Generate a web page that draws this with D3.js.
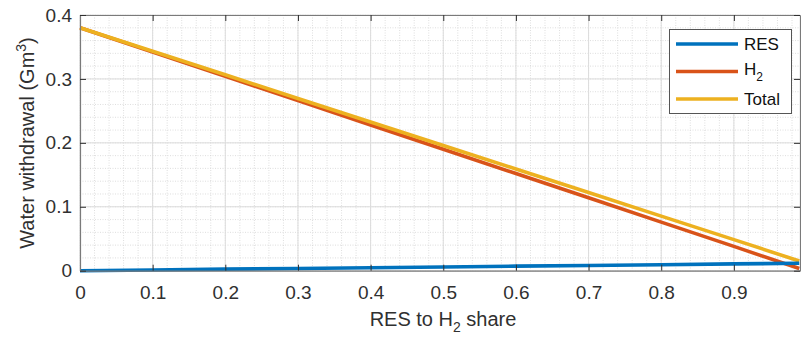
<!DOCTYPE html>
<html><head><meta charset="utf-8">
<script src="https://cdn.jsdelivr.net/npm/d3@7"></script>
<style>body{margin:0;background:#fff}svg{display:block}text{font-family:Arial,"Liberation Sans",Helvetica,sans-serif}</style>
</head><body><svg id="c" width="801" height="338"></svg>
<script>
const share = [0, 0.1, 0.2, 0.3, 0.4, 0.5, 0.6, 0.7, 0.8, 0.9, 0.99];
const resVals = [0, 0.0012, 0.0024, 0.0035, 0.0047, 0.0059, 0.0071, 0.0082, 0.0094, 0.0106, 0.0117];
const h2Vals = [0.38, 0.342, 0.304, 0.266, 0.228, 0.19, 0.152, 0.114, 0.076, 0.038, 0.0035];
const totalVals = [0.38, 0.3432, 0.3064, 0.2695, 0.2327, 0.1959, 0.1591, 0.1222, 0.0854, 0.0486, 0.0152];
const xTicks = [0, 0.1, 0.2, 0.3, 0.4, 0.5, 0.6, 0.7, 0.8, 0.9];
const yTicks = [0, 0.1, 0.2, 0.3, 0.4];
const seriesNames = ["RES", "H\u2082", "Total"];
const colors = ["#0072BD", "#D95319", "#EDB120"];

const svg = d3.select("#c");
const L = 80, R = 800, T = 15, B = 270.7;
const x = d3.scaleLinear().domain([0, 0.991]).range([L, R]);
const y = d3.scaleLinear().domain([0, 0.4]).range([B, T]);

// minor grid
const minorX = d3.range(0, 0.991, 0.02);
const minorY = d3.range(0, 0.401, 0.02);
const g = svg.append("g");
g.selectAll(".mx").data(minorX).join("line")
  .attr("x1", d => x(d)).attr("x2", d => x(d)).attr("y1", T).attr("y2", B)
  .attr("stroke", "#d6d6d6").attr("stroke-width", 0.8).attr("stroke-dasharray", "1,1.5");
g.selectAll(".my").data(minorY).join("line")
  .attr("y1", d => y(d)).attr("y2", d => y(d)).attr("x1", L).attr("x2", R)
  .attr("stroke", "#d6d6d6").attr("stroke-width", 0.8).attr("stroke-dasharray", "1,1.5");
// major grid
g.selectAll(".gx").data(xTicks).join("line")
  .attr("x1", d => x(d)).attr("x2", d => x(d)).attr("y1", T).attr("y2", B)
  .attr("stroke", "#dcdcdc").attr("stroke-width", 1);
g.selectAll(".gy").data(yTicks).join("line")
  .attr("y1", d => y(d)).attr("y2", d => y(d)).attr("x1", L).attr("x2", R)
  .attr("stroke", "#dcdcdc").attr("stroke-width", 1);

// lines
const data = [resVals, h2Vals, totalVals];
const line = d3.line().x((d, i) => x(share[i])).y(d => y(d));
const order = [1, 2, 0];
order.forEach(k => {
  svg.append("path").datum(data[k]).attr("d", line)
    .attr("fill", "none").attr("stroke", colors[k]).attr("stroke-width", 3.6);
});

// axes
const axC = "#303030";
const xa = svg.append("g").attr("transform", `translate(0,${B})`)
  .call(d3.axisBottom(x).tickValues(xTicks).tickFormat(d3.format("")).tickSizeInner(-6).tickSizeOuter(0).tickPadding(15));
const xt = svg.append("g").attr("transform", `translate(0,${T})`)
  .call(d3.axisTop(x).tickValues(xTicks).tickFormat("").tickSizeInner(-6).tickSizeOuter(0));
const ya = svg.append("g").attr("transform", `translate(${L},0)`)
  .call(d3.axisLeft(y).tickValues(yTicks).tickFormat(d3.format("")).tickSizeInner(-6).tickSizeOuter(0).tickPadding(8));
const yr = svg.append("g").attr("transform", `translate(${R},0)`)
  .call(d3.axisRight(y).tickValues(yTicks).tickFormat("").tickSizeInner(-6).tickSizeOuter(0));
[xa, xt, ya, yr].forEach(a => {
  a.select(".domain").attr("stroke", "#7a7a7a").attr("stroke-width", 1.2);
  a.selectAll(".tick line").attr("stroke", axC).attr("stroke-width", 1);
  a.selectAll("text").attr("fill", axC).attr("font-size", 19).attr("font-family", "Arial, 'Liberation Sans', sans-serif");
});

// axis labels
svg.append("text").attr("x", 443).attr("y", 326).attr("text-anchor", "middle")
  .attr("font-size", 20).attr("fill", axC)
  .html('RES to H<tspan font-size="14" dy="6">2</tspan><tspan dy="-6"> share</tspan>');
svg.append("text").attr("transform", "translate(34,143) rotate(-90)").attr("text-anchor", "middle")
  .attr("font-size", 20).attr("fill", axC)
  .html('Water withdrawal (Gm<tspan font-size="14" dy="-8">3</tspan><tspan dy="8">)</tspan>');

// legend
const lg = svg.append("g");
lg.append("rect").attr("x", 669.5).attr("y", 29.5).attr("width", 122).attr("height", 84)
  .attr("fill", "#fff").attr("stroke", "#555").attr("stroke-width", 1);
const ly = [44, 71.5, 99];
seriesNames.forEach((n, i) => {
  lg.append("line").attr("x1", 676).attr("x2", 738).attr("y1", ly[i]).attr("y2", ly[i])
    .attr("stroke", colors[i]).attr("stroke-width", 3.6);
});
lg.append("text").attr("x", 744).attr("y", ly[0] + 6).attr("font-size", 17).attr("fill", "#111").text("RES");
lg.append("text").attr("x", 744).attr("y", ly[1] + 3).attr("font-size", 17).attr("fill", "#111")
  .html('H<tspan font-size="12" dy="6">2</tspan>');
lg.append("text").attr("x", 744).attr("y", ly[2] + 6).attr("font-size", 17).attr("fill", "#111").text("Total");
</script></body></html>
